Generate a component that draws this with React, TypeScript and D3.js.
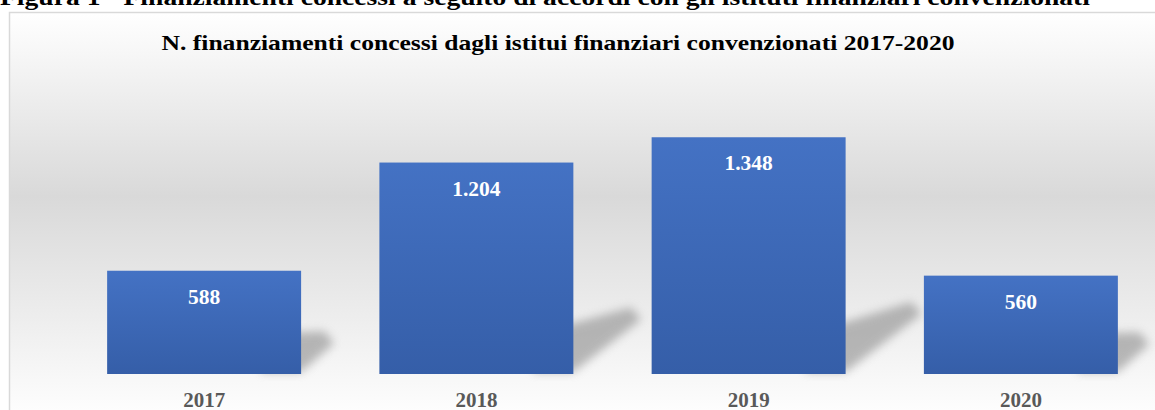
import React, { useEffect, useRef } from "react";
import * as d3 from "d3";

// anni e numero di finanziamenti concessi
const years = ["2017", "2018", "2019", "2020"];
const counts = [588, 1204, 1348, 560];
const countLabels = ["588", "1.204", "1.348", "560"];

const caption =
  "Figura 1 - Finanziamenti concessi a seguito di accordi con gli istituti finanziari convenzionati";
const title =
  "N. finanziamenti concessi dagli istitui finanziari convenzionati 2017-2020";

const W = 1155;
const H = 410;

export default function App() {
  const ref = useRef<SVGSVGElement>(null);

  useEffect(() => {
    const svg = d3.select(ref.current);
    svg.selectAll("*").remove();

    const defs = svg.append("defs");

    const bg = defs
      .append("linearGradient")
      .attr("id", "bg")
      .attr("x1", 0)
      .attr("y1", 0)
      .attr("x2", 0)
      .attr("y2", 1);
    bg.append("stop").attr("offset", "0%").attr("stop-color", "#ffffff");
    bg.append("stop").attr("offset", "45%").attr("stop-color", "#d9d9d9");
    bg.append("stop").attr("offset", "100%").attr("stop-color", "#ffffff");

    const barGrad = defs
      .append("linearGradient")
      .attr("id", "bar")
      .attr("x1", 0)
      .attr("y1", 0)
      .attr("x2", 0)
      .attr("y2", 1);
    barGrad.append("stop").attr("offset", "0%").attr("stop-color", "#4472c4");
    barGrad.append("stop").attr("offset", "100%").attr("stop-color", "#355ea8");

    defs
      .append("filter")
      .attr("id", "blur")
      .attr("x", "-50%")
      .attr("y", "-50%")
      .attr("width", "200%")
      .attr("height", "200%")
      .append("feGaussianBlur")
      .attr("stdDeviation", 5);

    // riquadro del grafico
    svg
      .append("rect")
      .attr("x", 9.5)
      .attr("y", 12.5)
      .attr("width", W)
      .attr("height", H)
      .attr("fill", "url(#bg)")
      .attr("stroke", "#d9d9d9")
      .attr("stroke-width", 1.5);

    // didascalia tagliata in alto
    svg
      .append("text")
      .attr("x", 0)
      .attr("y", 5)
      .attr("font-family", "Liberation Serif, serif")
      .attr("font-weight", "bold")
      .attr("font-size", 23)
      .attr("textLength", 1090)
      .attr("lengthAdjust", "spacingAndGlyphs")
      .attr("fill", "#000")
      .text(caption);

    svg
      .append("text")
      .attr("x", 558)
      .attr("y", 50)
      .attr("text-anchor", "middle")
      .attr("font-family", "Liberation Serif, serif")
      .attr("font-weight", "bold")
      .attr("font-size", 22)
      .attr("textLength", 793)
      .attr("lengthAdjust", "spacingAndGlyphs")
      .attr("fill", "#000")
      .text(title);

    const x = d3
      .scaleBand()
      .domain(years)
      .range([68, 1157])
      .paddingInner(0.2875)
      .paddingOuter(0.14375);

    const y = d3.scaleLinear().domain([0, 1600]).range([374, 93]);

    const data = years.map((yr, i) => ({ yr, v: counts[i], lab: countLabels[i] }));

    // ombre prospettiche dietro le barre
    svg
      .append("g")
      .selectAll("path")
      .data(data)
      .join("path")
      .attr("d", (d) => {
        const x0 = x(d.yr)!;
        const x1 = x0 + x.bandwidth();
        const b = y(0);
        const h = y(0) - y(d.v);
        const dx = h * 0.32;
        const dy = h * 0.22;
        return `M${x1 - 40},${b - 2} L${x1},${b - 2} L${x1 + dx},${b - dy - 8} L${x1 + dx - 10},${b - dy - 20} L${x1 - 40},${b - 40} Z`;
      })
      .attr("fill", "#8c8c8c")
      .attr("opacity", 0.6)
      .attr("filter", "url(#blur)");

    svg
      .append("g")
      .selectAll("rect")
      .data(data)
      .join("rect")
      .attr("x", (d) => x(d.yr)!)
      .attr("y", (d) => y(d.v))
      .attr("width", x.bandwidth())
      .attr("height", (d) => y(0) - y(d.v))
      .attr("fill", "url(#bar)");

    svg
      .append("g")
      .selectAll("text")
      .data(data)
      .join("text")
      .attr("x", (d) => x(d.yr)! + x.bandwidth() / 2)
      .attr("y", (d) => y(d.v) + 33)
      .attr("text-anchor", "middle")
      .attr("font-family", "Liberation Serif, serif")
      .attr("font-weight", "bold")
      .attr("font-size", 21.5)
      .attr("fill", "#ffffff")
      .text((d) => d.lab);

    svg
      .append("g")
      .selectAll("text")
      .data(data)
      .join("text")
      .attr("x", (d) => x(d.yr)! + x.bandwidth() / 2)
      .attr("y", 407)
      .attr("text-anchor", "middle")
      .attr("font-family", "Liberation Serif, serif")
      .attr("font-weight", "bold")
      .attr("font-size", 21)
      .attr("fill", "#595959")
      .text((d) => d.yr);
  }, []);

  return (
    <svg
      ref={ref}
      width={W}
      height={H}
      style={{ position: "fixed", left: 0, top: 0, background: "#fff" }}
    />
  );
}
